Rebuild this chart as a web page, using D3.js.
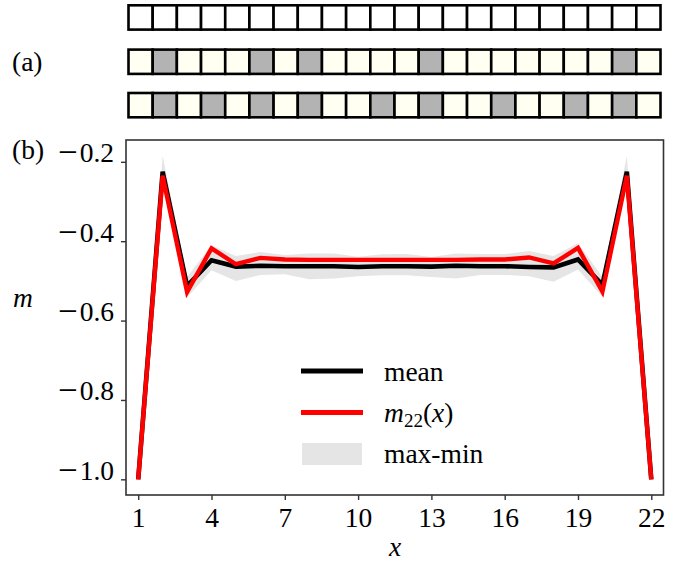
<!DOCTYPE html>
<html><head><meta charset="utf-8">
<script src="https://cdn.jsdelivr.net/npm/d3@7"></script>
<style>body{margin:0;background:#fff}svg{display:block}text{font-family:"Liberation Serif","Times New Roman",serif;fill:#000}</style>
</head><body><svg id="c" width="689" height="566"></svg>
<script>
const xs = d3.range(1, 23);
const meanVals = [-1.0,-0.225,-0.513,-0.448,-0.464,-0.462,-0.463,-0.463,-0.463,-0.465,-0.463,-0.463,-0.464,-0.462,-0.463,-0.463,-0.465,-0.466,-0.446,-0.51,-0.225,-1.0];
const m22Vals  = [-1.0,-0.235,-0.528,-0.418,-0.458,-0.442,-0.446,-0.447,-0.447,-0.447,-0.447,-0.447,-0.447,-0.447,-0.446,-0.446,-0.441,-0.456,-0.417,-0.527,-0.235,-1.0];
const maxVals  = [-1.0,-0.184,-0.49,-0.41,-0.4375,-0.427,-0.435,-0.431,-0.431,-0.439,-0.433,-0.432,-0.44,-0.431,-0.4325,-0.4325,-0.425,-0.4375,-0.405,-0.49,-0.185,-1.0];
const minVals  = [-1.0,-0.25,-0.542,-0.473,-0.5,-0.485,-0.483,-0.496,-0.494,-0.488,-0.486,-0.486,-0.49,-0.494,-0.485,-0.485,-0.488,-0.502,-0.471,-0.54,-0.25,-1.0];
const xTicks = [1,4,7,10,13,16,19,22];
const yTicks = [-1.0,-0.8,-0.6,-0.4,-0.2];
// configuration strip (a): 1 = gray site
const row1 = [0,0,0,0,0,0,0,0,0,0,0,0,0,0,0,0,0,0,0,0,0,0];
const row2 = [0,1,0,0,0,1,0,1,0,0,0,0,1,0,0,0,0,0,0,0,1,0];
const row3 = [0,1,0,1,0,1,0,1,0,0,1,0,1,0,0,1,0,0,1,0,1,0];
const rowFills = [["#ffffff","#ffffff"],["#fffff2","#b3b3b3"],["#fffff2","#b3b3b3"]];

const svg = d3.select("#c");
const L=126, R=663.5, T=140, B=495;
const x = d3.scaleLinear().domain([0.5,22.5]).range([L,R]);
const y = d3.scaleLinear().domain([-1.0395,-0.145]).range([B,T]);
const fs = 27.5;

// strip
const sx = d3.scaleLinear().domain([0.5,22.5]).range([128.5,660.5]);
const rowY = [5.3, 49.6, 93];
const rowH = 24.3;
[row1,row2,row3].forEach((row,ri)=>{
  svg.append("g").selectAll("rect").data(row).join("rect")
    .attr("x",(d,i)=>sx(i+0.5)).attr("y",rowY[ri])
    .attr("width",sx(1.5)-sx(0.5)).attr("height",rowH)
    .attr("fill",d=>rowFills[ri][d]).attr("stroke","#000").attr("stroke-width",2.6);
});

// panel labels
svg.append("text").attr("x",12).attr("y",71).attr("font-size",fs).text("(a)");
svg.append("text").attr("x",12).attr("y",159).attr("font-size",fs).text("(b)");

svg.append("clipPath").attr("id","pc").append("rect").attr("x",L).attr("y",T).attr("width",R-L).attr("height",B-T);
const g = svg.append("g").attr("clip-path","url(#pc)");

// band
g.append("path").datum(xs)
  .attr("d", d3.area().x(d=>x(d)).y0((d,i)=>y(minVals[i])).y1((d,i)=>y(maxVals[i])))
  .attr("fill","#e5e5e5");
// mean
g.append("path").datum(xs)
  .attr("d", d3.line().x(d=>x(d)).y((d,i)=>y(meanVals[i])))
  .attr("fill","none").attr("stroke","#000").attr("stroke-width",4.6).attr("stroke-linejoin","miter");
// m22
g.append("path").datum(xs)
  .attr("d", d3.line().x(d=>x(d)).y((d,i)=>y(m22Vals[i])))
  .attr("fill","none").attr("stroke","#ff0000").attr("stroke-width",4.4).attr("stroke-linejoin","miter");

// frame
svg.append("rect").attr("x",L).attr("y",T).attr("width",R-L).attr("height",B-T)
  .attr("fill","none").attr("stroke","#333").attr("stroke-width",1.6);

// axes
const xa = svg.append("g").attr("transform",`translate(0,${B})`)
  .call(d3.axisBottom(x).tickValues(xTicks).tickSize(5).tickPadding(4).tickFormat(d3.format("d")));
const ya = svg.append("g").attr("transform",`translate(${L},0)`)
  .call(d3.axisLeft(y).tickValues(yTicks).tickSize(5).tickPadding(7).tickFormat(d=>d3.format(".1f")(d).replace("-","\u2212")));
[xa,ya].forEach(a=>{
  a.select(".domain").remove();
  a.selectAll(".tick line").attr("stroke","#333").attr("stroke-width",1.4);
  a.selectAll(".tick text").attr("font-size",fs).attr("font-family",'"Liberation Serif",serif').attr("fill","#000");
});
xa.selectAll(".tick text").attr("dy","0.84em");
// rebuild y tick labels with a wider TeX-like minus sign
ya.selectAll(".tick text").each(function(){
  const s = d3.select(this); const txt = s.text();
  s.text("").attr("dy","0.34em");
  if (txt.startsWith("\u2212")) {
    s.append("tspan").attr("font-size",35).attr("dy",1.8).text("\u2212");
    s.append("tspan").attr("dx",2).attr("dy",-1.8).text(txt.slice(1));
  } else s.text(txt);
});

// axis labels
svg.append("text").attr("x",395).attr("y",556).attr("text-anchor","middle").attr("font-size",fs).attr("font-style","italic").text("x");
svg.append("text").attr("x",23).attr("y",307).attr("text-anchor","middle").attr("font-size",fs).attr("font-style","italic").text("m");

// legend
const lg = svg.append("g");
lg.append("line").attr("x1",301).attr("x2",363).attr("y1",371).attr("y2",371).attr("stroke","#000").attr("stroke-width",5);
lg.append("line").attr("x1",301).attr("x2",363).attr("y1",412.5).attr("y2",412.5).attr("stroke","#ff0000").attr("stroke-width",5);
lg.append("rect").attr("x",302).attr("y",443).attr("width",60).attr("height",22).attr("fill","#e5e5e5");
lg.append("text").attr("x",384).attr("y",381).attr("font-size",fs).text("mean");
const t2 = lg.append("text").attr("x",384).attr("y",422).attr("font-size",fs);
t2.append("tspan").attr("font-style","italic").text("m");
t2.append("tspan").attr("font-size",19).attr("dy",5).text("22");
t2.append("tspan").attr("dy",-5).text("(");
t2.append("tspan").attr("font-style","italic").text("x");
t2.append("tspan").text(")");
lg.append("text").attr("x",384).attr("y",463).attr("font-size",fs).text("max-min");
</script></body></html>
